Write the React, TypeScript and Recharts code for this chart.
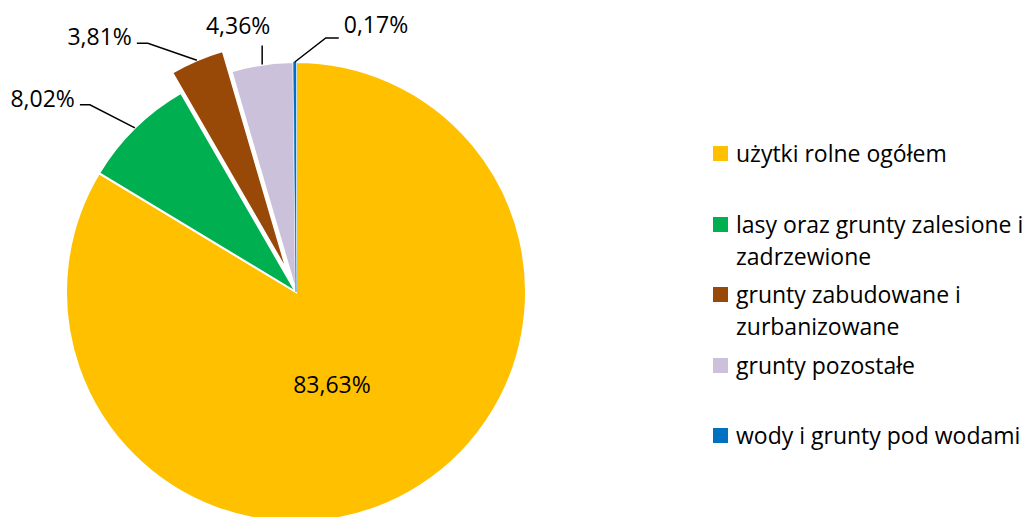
import { PieChart, Pie, Cell, Sector, Legend } from 'recharts'

const categories = [
  'użytki rolne ogółem',
  'lasy oraz grunty zalesione i zadrzewione',
  'grunty zabudowane i zurbanizowane',
  'grunty pozostałe',
  'wody i grunty pod wodami',
]
const shares = [83.63, 8.02, 3.81, 4.36, 0.17]
const colors = ['#FFC000', '#00B050', '#984807', '#CCC1DA', '#0070C0']

const data = categories.map((name, i) => ({ name, value: shares[i] }))

const RADIAN = Math.PI / 180
const EXPLODED = 2
const EXPLODE_BY = 22
const FONT = '"Open Sans", "Noto Sans", sans-serif'

// leader-line elbows and text offsets, relative to the slice's outer point
const labelLayout: any[] = [
  { inside: true, tx: 36, ty: 101 },
  { pts: [[-45, -23], [-55, -23]], tx: -60, ty: -21, anchor: 'end' },
  { pts: [[-49, -17], [-60, -17]], tx: -65, ty: -15, anchor: 'end' },
  { pts: [[0, -19]], tx: -24, ty: -31, anchor: 'middle' },
  { pts: [[31, -24], [44, -24]], tx: 49, ty: -29, anchor: 'start' },
]

const fmt = (v: number) => v.toFixed(2).replace('.', ',') + '%'

const renderShape = (props: any) => {
  if (props.index === EXPLODED) {
    const dx = EXPLODE_BY * Math.cos(-props.midAngle * RADIAN)
    const dy = EXPLODE_BY * Math.sin(-props.midAngle * RADIAN)
    return <Sector {...props} cx={props.cx + dx} cy={props.cy + dy} />
  }
  return <Sector {...props} />
}

const renderLabel = (props: any) => {
  const { cx, cy, midAngle, outerRadius, index, value } = props
  const l = labelLayout[index]
  if (l.inside) {
    return (
      <text x={cx + l.tx} y={cy + l.ty} textAnchor="middle" fill="#000" fontSize={23} fontFamily={FONT}>
        {fmt(value)}
      </text>
    )
  }
  const r = outerRadius + (index === EXPLODED ? EXPLODE_BY : 0)
  const ax = cx + r * Math.cos(-midAngle * RADIAN)
  const ay = cy + r * Math.sin(-midAngle * RADIAN)
  const points = [[ax, ay], ...l.pts.map((p: number[]) => [ax + p[0], ay + p[1]])]
    .map((p) => p.join(','))
    .join(' ')
  return (
    <g>
      <polyline points={points} fill="none" stroke="#000" strokeWidth={1.5} />
      <text x={ax + l.tx} y={ay + l.ty} textAnchor={l.anchor} fill="#000" fontSize={23} fontFamily={FONT}>
        {fmt(value)}
      </text>
    </g>
  )
}

const renderLegend = () => (
  <div style={{ position: 'relative', width: 320, height: 517, fontFamily: FONT, fontSize: 23, color: '#000' }}>
    {categories.map((name, i) => (
      <div
        key={name}
        style={{ position: 'absolute', left: 0, top: 137 + i * 70.5, display: 'flex', alignItems: 'flex-start', width: 340 }}
      >
        <span style={{ width: 15, height: 15, marginTop: 9, background: colors[i], flex: 'none' }} />
        <span style={{ marginLeft: 8, lineHeight: '32px', width: 317 }}>{name}</span>
      </div>
    ))}
  </div>
)

export default function App() {
  return (
    <div style={{ position: 'absolute', left: 0, top: 0, width: 1026, height: 517, overflow: 'hidden', background: '#fff' }}>
      <PieChart width={1026} height={517} margin={{ top: 0, right: 0, bottom: 0, left: 0 }}>
        <Pie
          data={data}
          dataKey="value"
          nameKey="name"
          cx={296}
          cy={292}
          outerRadius={230}
          startAngle={90}
          endAngle={-270}
          stroke="#fff"
          strokeWidth={2}
          shape={renderShape}
          label={renderLabel}
          labelLine={false}
          isAnimationActive={false}
        >
          {data.map((d, i) => (
            <Cell key={d.name} fill={colors[i]} stroke={i === 4 ? colors[i] : '#fff'} strokeWidth={i === 4 ? 0.5 : 2} />
          ))}
        </Pie>
        <Legend
          content={renderLegend}
          wrapperStyle={{ position: 'absolute', left: 713, top: 0, width: 340, height: 517 }}
        />
      </PieChart>
    </div>
  )
}
